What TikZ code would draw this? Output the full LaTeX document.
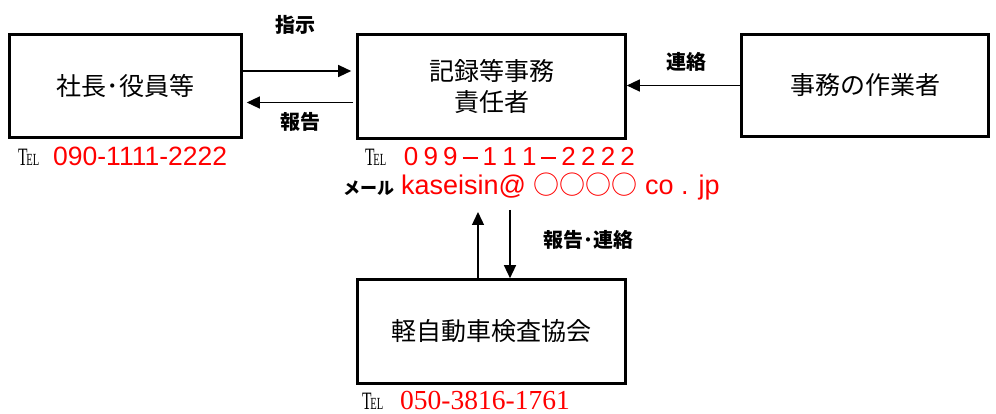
\documentclass[tikz,border=0pt]{standalone}
\usepackage{fontspec}
\usepackage{graphicx}
\usetikzlibrary{arrows.meta}
\setmainfont{Noto Sans CJK JP}
\newfontfamily\sansnum{Liberation Sans}
\newfontfamily\serifnum{Liberation Serif}
\newcommand{\telmark}{{\serifnum\fontsize{25}{25}\selectfont\scalebox{0.62}[1]{T\kern-2pt{\fontsize{17}{17}\selectfont EL}}}}
\newcommand{\wc}[1]{\makebox[19.7pt]{#1}}
\begin{document}
\begin{tikzpicture}[x=1pt, y=-1pt,
    box/.style={draw, line width=2.6pt, inner sep=0pt, align=center, font=\fontsize{25}{31}\selectfont},
    lbl/.style={font=\bfseries\fontsize{20}{20}\selectfont},
    arr/.style={-{Triangle[length=13pt,width=12pt]}, line width=1.3pt},
    info/.style={anchor=base west, inner sep=0pt}]

      \useasboundingbox (0,0) rectangle (996,414);

      % Boxes
      \node[box, minimum width=232pt, minimum height=103pt] (b1) at (125.5,86) {社長･役員等};
      \node[box, minimum width=268pt, minimum height=104pt] (b2) at (491.5,86.5) {記録等事務\\責任者};
      \node[box, minimum width=247pt, minimum height=102pt] (b3) at (865,85.5) {事務の作業者};
      \node[box, minimum width=268pt, minimum height=104pt] (b4) at (491.5,331.5) {軽自動車検査協会};

      % Arrows
      \draw[arr, shorten >=5pt] ([yshift=15pt]b1.east) -- ([yshift=15pt]b1.east -| b2.west);
      \draw[arr, shorten <=3pt, shorten >=4pt] ([yshift=-16pt]b2.west) -- ([yshift=-16pt]b2.west -| b1.east);
      \draw[arr] (b3.west) -- (b3.west -| b2.east);
      \coordinate (up) at (478,212);
      \coordinate (dn) at (510,210);
      \draw[arr] (b4.north -| up) -- (up);
      \draw[arr] (dn) -- (dn |- b4.north);

      % Labels
      \node[lbl] (l-shiji) at (295,25) {指示};
      \node[lbl] (l-hokoku) at (300,122) {報告};
      \node[lbl] (l-renraku) at (686,62) {連絡};
      \node[lbl] (l-hr) at (588,240) {報告･連絡};

      % Contact lines
      \node[info] (tel1) at (18,166) {\telmark};
      \node[info, red, font=\sansnum\fontsize{26.5}{26.5}\selectfont] (num1) at (53,166) {090-1111-2222};
      \node[info] (tel2) at (365,166) {\telmark};
      \node[info, red, font=\sansnum\fontsize{26}{26}\selectfont] (num2) at (401,166)
        {\wc0\wc9\wc9\wc{\rule[7pt]{15pt}{2.2pt}}\wc1\wc1\wc1\wc{\rule[7pt]{15pt}{2.2pt}}\wc2\wc2\wc2\wc2};
      \node[info, font=\bfseries\fontsize{17}{17}\selectfont] (mail-l) at (343,195) {メール};
      \node[info, red, font=\sansnum\fontsize{27}{27}\selectfont] (mail) at (401,195)
        {kaseisin@ {\rmfamily\fontsize{26}{26}\selectfont ○○○○} co . jp};
      \node[info] (tel4) at (362,409) {\telmark};
      \node[info, red, font=\serifnum\fontsize{27.5}{27.5}\selectfont] (num4) at (400,409) {050-3816-1761};

  \end{tikzpicture}
\end{document}
